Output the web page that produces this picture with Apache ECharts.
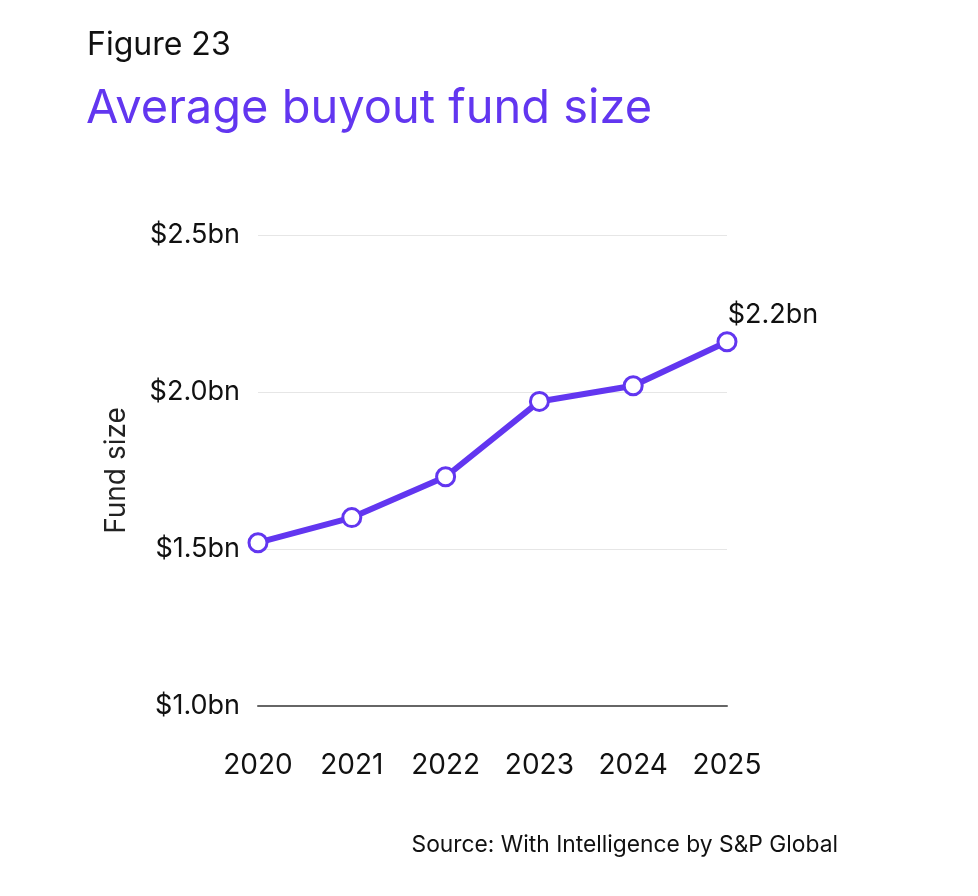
<!DOCTYPE html>
<html>
<head>
<meta charset="utf-8">
<script src="https://cdn.jsdelivr.net/npm/echarts@6/dist/echarts.min.js"></script>
<style>
html,body{margin:0;padding:0;background:#fff;}
#chart{width:978px;height:896px;}
</style>
</head>
<body>
<div id="chart"></div>
<script>
const years = ['2020', '2021', '2022', '2023', '2024', '2025'];
const fundSize = [1.52, 1.60, 1.73, 1.97, 2.02, 2.16];
const yTicks = [1.0, 1.5, 2.0, 2.5];
const lastLabel = '$2.2bn';

const purple = '#6236f0';
const font = 'Inter, "Noto Sans", sans-serif';

const chart = echarts.init(document.getElementById('chart'));
chart.setOption({
  backgroundColor: '#fff',
  animation: false,
  textStyle: { fontFamily: font },
  title: [
    { text: 'Figure 23', left: 82, top: 24, textStyle: { fontSize: 32, fontWeight: 'normal', color: '#111', fontFamily: font } },
    { text: 'Average buyout fund size', left: 81, top: 80, textStyle: { fontSize: 47, fontWeight: 'normal', color: purple, fontFamily: font } },
    { text: 'Source: With Intelligence by S&P Global', right: 135, top: 829, textStyle: { fontSize: 22.8, fontWeight: 'normal', color: '#111', fontFamily: font } }
  ],
  grid: { left: 258, right: 251, top: 235, bottom: 190, containLabel: false },
  xAxis: {
    type: 'category',
    data: years,
    boundaryGap: false,
    axisLine: { show: true, lineStyle: { color: '#666666', width: 2 } },
    axisTick: { show: false },
    axisLabel: { fontSize: 28, color: '#111', margin: 46, fontFamily: font }
  },
  yAxis: {
    type: 'value',
    min: yTicks[0],
    max: yTicks[yTicks.length - 1],
    interval: 0.5,
    name: 'Fund size',
    nameLocation: 'middle',
    nameGap: 127,
    nameTextStyle: { fontSize: 28, color: '#222', fontFamily: font },
    axisLine: { show: false },
    axisTick: { show: false },
    axisLabel: { fontSize: 27, color: '#111', margin: 18, fontFamily: font, formatter: v => '$' + v.toFixed(1) + 'bn' },
    splitLine: { lineStyle: { color: '#e6e6e6', width: 1 } }
  },
  series: [{
    type: 'line',
    data: fundSize.map((v, i) => i === fundSize.length - 1 ? {
      value: v,
      label: { show: true, position: 'top', offset: [46, 2], formatter: lastLabel, fontSize: 27, color: '#111', fontFamily: font }
    } : v),
    lineStyle: { color: purple, width: 6 },
    symbol: 'circle',
    symbolSize: 18,
    itemStyle: { color: '#fff', borderColor: purple, borderWidth: 3 },
    z: 5
  }]
});
</script>
</body>
</html>
